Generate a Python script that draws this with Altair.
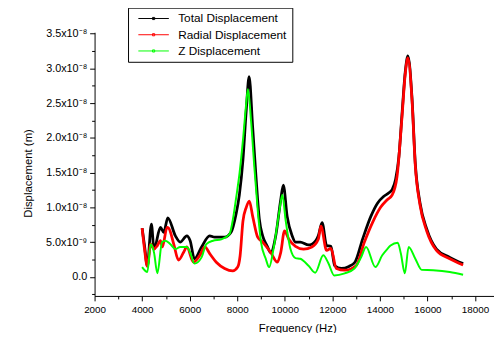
import altair as alt
import pandas as pd

# ---- data (displacement values in units of 1e-9 m) ----
total_freq = [4000, 4100, 4220, 4390, 4500, 4770, 4910, 5080, 5400, 5600, 5880, 6020, 6200,
              6500, 6840, 7050, 7470, 7740, 7950, 8090, 8240, 8380, 8500, 8650, 8790, 8930,
              9070, 9250, 9410, 9620, 9830, 9940, 10100, 10310, 10450, 10650, 11000, 11140,
              11410, 11570, 11760, 11940, 12100, 12380, 12700, 12950, 13280, 13620, 13900,
              14170, 14380, 14520, 14660, 14800, 14930, 15070, 15180, 15350, 15490, 15690,
              15970, 16380, 16940, 17500]
total_val = [7.0, 4.5, 1.6, 7.6, 4.0, 7.1, 6.4, 8.5, 5.9, 5.0, 5.9, 5.2, 2.6,
             4.3, 5.9, 5.7, 5.7, 6.4, 9.0, 11.8, 16.8, 24.0, 28.8, 21.5, 14.4, 8.3,
             5.9, 4.5, 3.5, 5.9, 11.1, 13.2, 8.7, 5.9, 5.0, 5.0, 4.6, 4.7,
             5.9, 7.8, 4.5, 4.4, 1.6, 1.2, 1.5, 2.1, 5.5, 8.7, 10.6,
             11.6, 12.1, 12.6, 14.0, 17.3, 23.4, 29.6, 31.8, 25.8, 16.3, 10.6,
             6.9, 4.0, 2.8, 1.9]

radial_freq = [4000, 4100, 4220, 4360, 4500, 4640, 4770, 4850, 5050, 5120, 5330, 5530, 5740,
               5880, 6160, 6430, 6640, 6850, 7120, 7470, 7810, 8020, 8120, 8240, 8380, 8510,
               8650, 8860, 9070, 9410, 9690, 9830, 9990, 10170, 10450, 10790, 11140, 11410,
               11520, 11760, 11940, 12170, 12520, 13000, 13350, 13690, 14030, 14310, 14520,
               14720, 14930, 15070, 15180, 15350, 15490, 15690, 15970, 16380, 16940, 17500]
radial_val = [7.0, 4.0, 1.5, 4.7, 4.0, 4.5, 5.2, 4.3, 7.1, 7.0, 4.7, 2.4, 3.5,
              4.3, 2.1, 3.1, 4.3, 3.3, 2.1, 1.2, 0.85, 1.4, 3.0, 8.0, 10.0, 10.9,
              8.7, 5.7, 5.0, 3.5, 2.1, 3.5, 6.6, 5.4, 4.4, 4.0, 4.3, 5.4,
              7.3, 3.8, 4.1, 1.2, 0.95, 1.6, 5.0, 7.8, 10.0, 11.1, 11.8,
              14.4, 23.0, 29.3, 31.5, 25.5, 16.0, 10.3, 6.6, 3.8, 2.6, 1.7]

z_freq = [4000, 4220, 4360, 4500, 4640, 4840, 4980, 5190, 5400, 5600, 5880, 6020, 6200,
          6500, 6700, 6980, 7330, 7670, 7830, 7960, 8100, 8250, 8380, 8450, 8580, 8720,
          8860, 9000, 9200, 9340, 9550, 9760, 9900, 10030, 10240, 10450, 10650, 11000,
          11280, 11620, 11830, 12080, 12520, 12930, 13210, 13420, 13810, 14100, 14310,
          14450, 14750, 14880, 15050, 15210, 15490, 15760, 16240, 16940, 17500]
z_val = [1.4, 0.7, 4.7, 3.5, 0.5, 5.0, 5.2, 4.7, 4.0, 4.3, 4.3, 3.5, 1.9,
         2.8, 4.7, 5.2, 5.4, 6.1, 8.5, 11.5, 15.0, 20.0, 25.0, 27.0, 22.5, 15.8,
         9.7, 5.0, 2.6, 1.4, 4.5, 9.2, 11.8, 8.3, 4.0, 2.7, 2.6, 1.6,
         0.6, 3.1, 2.0, 0.2, 0.5, 1.2, 2.8, 4.3, 1.4, 3.1, 4.0,
         4.5, 4.9, 3.4, 0.5, 4.3, 2.6, 1.0, 0.95, 0.7, 0.3]

series_names = ["Total Displacement", "Radial Displacement", "Z Displacement"]
series_colors = ["#000000", "#ff0000", "#00ff00"]

x_ticks = [2000, 3000, 4000, 5000, 6000, 7000, 8000, 9000, 10000, 11000, 12000,
           13000, 14000, 15000, 16000, 17000, 18000]
y_ticks = [-2.5e-9, 0.0, 2.5e-9, 5e-9, 7.5e-9, 1e-8, 1.25e-8, 1.5e-8, 1.75e-8, 2e-8,
           2.25e-8, 2.5e-8, 2.75e-8, 3e-8, 3.25e-8, 3.5e-8]

rows = []
for name, fr, vals in [(series_names[0], total_freq, total_val),
                       (series_names[1], radial_freq, radial_val),
                       (series_names[2], z_freq, z_val)]:
    for f, v in zip(fr, vals):
        rows.append({"series": name, "freq": f, "disp": v * 1e-9})
df = pd.DataFrame(rows)

FONT = "Liberation Sans"

y_label_expr = (
    "abs(datum.value) < 1e-12 ? '0.0' : "
    "(abs(datum.value / 5e-9 - round(datum.value / 5e-9)) > 0.01 ? '' : "
    "(abs(datum.value - 5e-9) < 1e-12 ? '5.0x10\u207b\u2079' : "
    "format(datum.value * 1e8, '.1f') + 'x10\u207b\u2078'))"
)

x_enc = alt.X("freq:Q",
              scale=alt.Scale(domain=[2000, 18800], nice=False, zero=False),
              axis=alt.Axis(values=x_ticks, title="Frequency (Hz)",
                            labelExpr="datum.value % 2000 == 0 ? format(datum.value, 'd') : ''",
                            tickSize={"condition": {"test": "datum.value % 2000 == 0", "value": 5}, "value": 3},
                            labelFontSize=10, labelPadding=4, titleFontSize=11.5,
                            titlePadding=8, titleX=206, labelFlush=False))
y_enc = alt.Y("disp:Q",
              scale=alt.Scale(domain=[-2.75e-9, 3.52e-8], nice=False, zero=False),
              axis=alt.Axis(values=y_ticks, title="Displacement (m)",
                            labelExpr=y_label_expr,
                            tickSize={"condition": {"test": "abs(datum.value / 5e-9 - round(datum.value / 5e-9)) < 0.01", "value": 5}, "value": 3},
                            labelFontSize=11, labelPadding=3, titleFontSize=11.5,
                            titlePadding=12, titleY=143, labelFlush=False))
color_enc = alt.Color("series:N",
                      scale=alt.Scale(domain=series_names, range=series_colors),
                      legend=alt.Legend(orient="none", legendX=34, legendY=-25, title=None,
                                        strokeColor="black", fillColor="white", padding=5,
                                        labelFontSize=12, labelFont=FONT, labelColor="black",
                                        symbolType="M-1,0H1M-0.07,-0.07H0.07V0.07H-0.07Z",
                                        symbolSize=961, symbolStrokeWidth=1,
                                        symbolOffset=5, labelOffset=9, clipHeight=12,
                                        rowPadding=4.5, cornerRadius=0))

base = alt.Chart(df).encode(x=x_enc, y=y_enc, color=color_enc, order=alt.Order("freq:Q"))

thick = base.transform_filter(
    alt.FieldOneOfPredicate(field="series", oneOf=series_names[:2])
).mark_line(interpolate="monotone", clip=True, strokeWidth=2.8)
thin = base.transform_filter(
    alt.FieldEqualPredicate(field="series", equal=series_names[2])
).mark_line(interpolate="monotone", clip=True, strokeWidth=2.0)

chart = alt.layer(thick, thin).properties(
    width=406, height=268,
    autosize=alt.AutoSizeParams(type="none"),
    padding={"left": 88, "top": 22, "right": 0, "bottom": 35},
).configure_view(stroke=None).configure_axis(
    grid=False, domainColor="black", tickColor="black", labelColor="black",
    titleColor="black", labelFont=FONT, titleFont=FONT, titleFontWeight="normal",
    domainWidth=1, tickWidth=1,
)

chart.save("out.html", embed_options={"renderer": "svg", "actions": False})
